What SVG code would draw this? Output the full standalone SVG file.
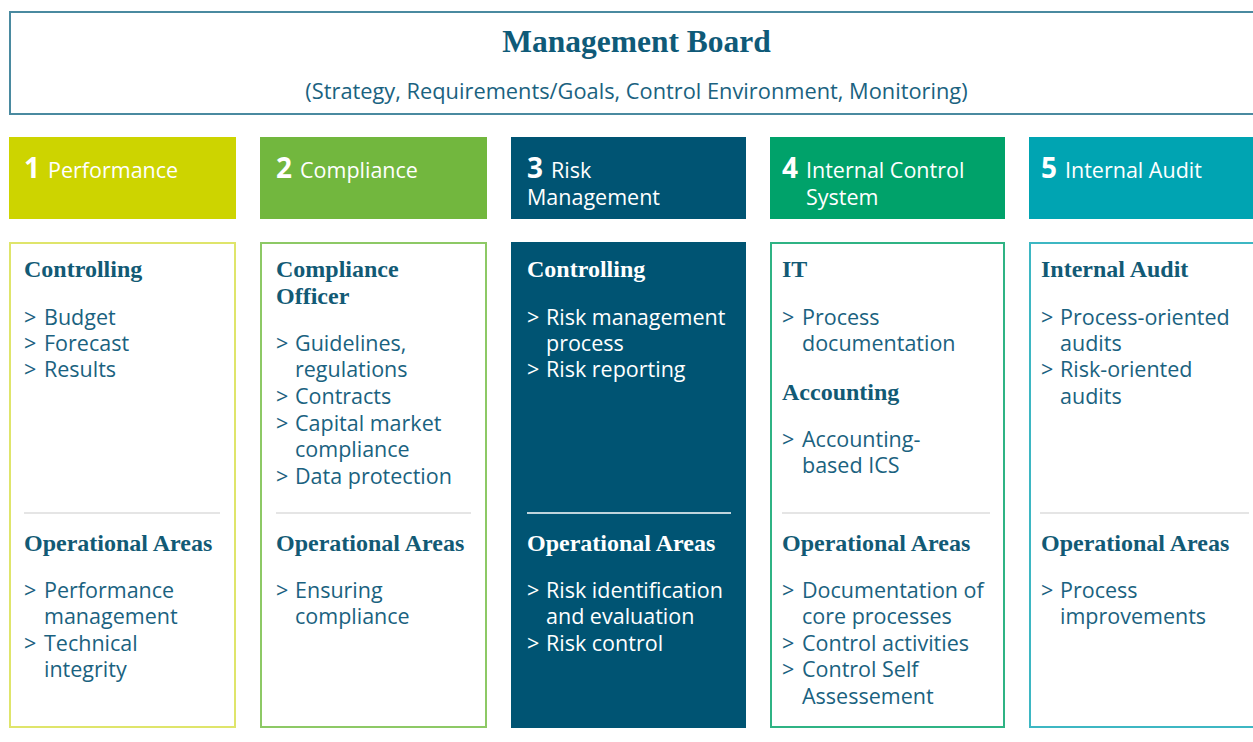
<svg xmlns="http://www.w3.org/2000/svg" width="1253" height="742" viewBox="0 0 1253 742">
<style>
.serif{font-family:"Liberation Serif","Times New Roman",serif;font-weight:bold;}
.sans{font-family:"Open Sans","Noto Sans",sans-serif;}
.h{font-size:24px;fill:#125a75;}
.it{font-size:21.5px;fill:#1a6280;}
.w{fill:#ffffff;}
.hd{font-size:21.5px;fill:#ffffff;}
.num{font-size:28px;font-weight:bold;}
.div{stroke:#dcdcdc;stroke-width:1.5;}
</style>
<rect width="1253" height="742" fill="#ffffff"/>
<g id="board">
<rect x="10" y="12" width="1260" height="102" fill="#ffffff" stroke="#4a8aa0" stroke-width="2"/>
<text class="serif" x="636.5" y="52" font-size="31.5" fill="#0f5a78" text-anchor="middle">Management Board</text>
<text class="sans" x="636.5" y="99" font-size="21.8" fill="#1a6280" text-anchor="middle">(Strategy, Requirements/Goals, Control Environment, Monitoring)</text>
</g>
<g id="col1">
<rect x="9" y="137" width="227" height="82" fill="#cdd400"/>
<text class="sans hd" y="178"><tspan class="num" x="24">1</tspan><tspan x="48">Performance</tspan></text>
<rect x="10" y="243" width="225" height="484" fill="#ffffff" stroke="#dfe56b" stroke-width="2"/>
<text class="serif h" x="24" y="277">Controlling</text>
<text class="sans it"><tspan x="24" y="325">&gt;</tspan><tspan x="44" y="325">Budget</tspan><tspan x="24" y="351">&gt;</tspan><tspan x="44" y="351">Forecast</tspan><tspan x="24" y="377">&gt;</tspan><tspan x="44" y="377">Results</tspan></text>
<line class="div" x1="24" y1="513" x2="220" y2="513"/>
<text class="serif h" x="24" y="551">Operational Areas</text>
<text class="sans it"><tspan x="24" y="598">&gt;</tspan><tspan x="44" y="598">Performance</tspan><tspan x="44" y="624">management</tspan><tspan x="24" y="651">&gt;</tspan><tspan x="44" y="651">Technical</tspan><tspan x="44" y="677">integrity</tspan></text>
</g>
<g id="col2">
<rect x="260" y="137" width="227" height="82" fill="#72b73e"/>
<text class="sans hd" y="178"><tspan class="num" x="276">2</tspan><tspan x="300">Compliance</tspan></text>
<rect x="261" y="243" width="225" height="484" fill="#ffffff" stroke="#8dc965" stroke-width="2"/>
<text class="serif h"><tspan x="276" y="277">Compliance</tspan><tspan x="276" y="304">Officer</tspan></text>
<text class="sans it"><tspan x="276" y="351">&gt;</tspan><tspan x="295" y="351">Guidelines,</tspan><tspan x="295" y="377">regulations</tspan><tspan x="276" y="404">&gt;</tspan><tspan x="295" y="404">Contracts</tspan><tspan x="276" y="431">&gt;</tspan><tspan x="295" y="431">Capital market</tspan><tspan x="295" y="457">compliance</tspan><tspan x="276" y="484">&gt;</tspan><tspan x="295" y="484">Data protection</tspan></text>
<line class="div" x1="276" y1="513" x2="471" y2="513"/>
<text class="serif h" x="276" y="551">Operational Areas</text>
<text class="sans it"><tspan x="276" y="598">&gt;</tspan><tspan x="295" y="598">Ensuring</tspan><tspan x="295" y="624">compliance</tspan></text>
</g>
<g id="col3">
<rect x="511" y="137" width="235" height="82" fill="#005473"/>
<text class="sans hd"><tspan class="num" x="527" y="178">3</tspan><tspan x="551" y="178">Risk</tspan><tspan x="527" y="205">Management</tspan></text>
<rect x="511" y="242" width="235" height="486" fill="#005473"/>
<text class="serif h w" x="527" y="277">Controlling</text>
<text class="sans it w"><tspan x="527" y="325">&gt;</tspan><tspan x="546" y="325">Risk management</tspan><tspan x="546" y="351">process</tspan><tspan x="527" y="377">&gt;</tspan><tspan x="546" y="377">Risk reporting</tspan></text>
<line x1="527" y1="513" x2="731" y2="513" stroke="#ffffff" stroke-width="1.5"/>
<text class="serif h w" x="527" y="551">Operational Areas</text>
<text class="sans it w"><tspan x="527" y="598">&gt;</tspan><tspan x="546" y="598">Risk identification</tspan><tspan x="546" y="624">and evaluation</tspan><tspan x="527" y="651">&gt;</tspan><tspan x="546" y="651">Risk control</tspan></text>
</g>
<g id="col4">
<rect x="770" y="137" width="235" height="82" fill="#00a26a"/>
<text class="sans hd"><tspan class="num" x="782" y="178">4</tspan><tspan x="806" y="178">Internal Control</tspan><tspan x="806" y="205">System</tspan></text>
<rect x="771" y="243" width="233" height="484" fill="#ffffff" stroke="#2fb384" stroke-width="2"/>
<text class="serif h" x="782" y="277">IT</text>
<text class="sans it"><tspan x="782" y="325">&gt;</tspan><tspan x="802" y="325">Process</tspan><tspan x="802" y="351">documentation</tspan></text>
<text class="serif h" x="782" y="400">Accounting</text>
<text class="sans it"><tspan x="782" y="447">&gt;</tspan><tspan x="802" y="447">Accounting-</tspan><tspan x="802" y="473">based ICS</tspan></text>
<line class="div" x1="782" y1="513" x2="990" y2="513"/>
<text class="serif h" x="782" y="551">Operational Areas</text>
<text class="sans it"><tspan x="782" y="598">&gt;</tspan><tspan x="802" y="598">Documentation of</tspan><tspan x="802" y="624">core processes</tspan><tspan x="782" y="651">&gt;</tspan><tspan x="802" y="651">Control activities</tspan><tspan x="782" y="677">&gt;</tspan><tspan x="802" y="677">Control Self</tspan><tspan x="802" y="704">Assessement</tspan></text>
</g>
<g id="col5">
<rect x="1029" y="137" width="240" height="82" fill="#00a4b2"/>
<text class="sans hd" y="178"><tspan class="num" x="1041">5</tspan><tspan x="1065">Internal Audit</tspan></text>
<rect x="1030" y="243" width="240" height="484" fill="#ffffff" stroke="#3db7c3" stroke-width="2"/>
<text class="serif h" x="1041" y="277">Internal Audit</text>
<text class="sans it"><tspan x="1041" y="325">&gt;</tspan><tspan x="1060" y="325">Process-oriented</tspan><tspan x="1060" y="351">audits</tspan><tspan x="1041" y="377">&gt;</tspan><tspan x="1060" y="377">Risk-oriented</tspan><tspan x="1060" y="404">audits</tspan></text>
<line class="div" x1="1040" y1="513" x2="1249" y2="513"/>
<text class="serif h" x="1041" y="551">Operational Areas</text>
<text class="sans it"><tspan x="1041" y="598">&gt;</tspan><tspan x="1060" y="598">Process</tspan><tspan x="1060" y="624">improvements</tspan></text>
</g>
<g id="connectors"></g>
</svg>
